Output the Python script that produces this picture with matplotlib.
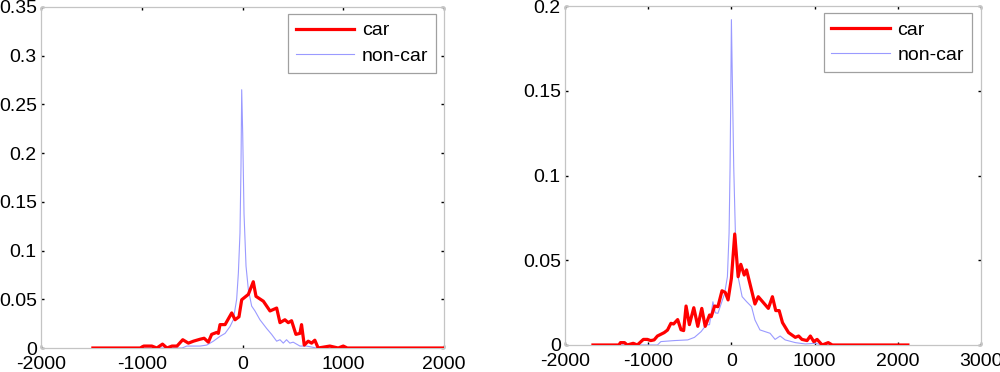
import matplotlib
matplotlib.use("Agg")
import matplotlib.pyplot as plt

plt.rcParams["font.family"] = ["Liberation Sans", "DejaVu Sans"]

# --- left panel data ---
left_car_x = [-1485, -1016, -980, -900, -850, -794, -750, -700, -650, -593, -537, -487,
              -421, -381, -339, -306, -256, -240, -223, -173, -107, -74, -35, -8, 58,
              107, 134, 207, 273, 339, 372, 421, 454, 487, 530, 570, 586, 613, 652,
              686, 718, 751, 867, 950, 1000, 1040, 2000]
left_car_y = [0, 0, 0.002, 0.002, 0, 0.004, 0, 0.002, 0.002, 0.0085, 0.005, 0.007,
              0.009, 0.010, 0.006, 0.014, 0.016, 0.015, 0.024, 0.024, 0.036, 0.029,
              0.032, 0.0495, 0.055, 0.068, 0.053, 0.048, 0.038, 0.041, 0.026, 0.029,
              0.026, 0.028, 0.014, 0.015, 0.024, 0.003, 0.007, 0.005, 0.008, 0, 0.002,
              0, 0.002, 0, 0]

left_noncar_x = [-1485, -600, -553, -421, -355, -289, -223, -173, -124, -91, -58, -41,
                 -25, -15, -8, 2, 15, 35, 58, 91, 124, 173, 240, 289, 339, 372, 405,
                 437, 470, 503, 570, 636, 734, 2000]
left_noncar_y = [0, 0, 0.002, 0.002, 0.003, 0.007, 0.012, 0.015, 0.022, 0.029, 0.050,
                 0.077, 0.118, 0.186, 0.265, 0.220, 0.138, 0.084, 0.060, 0.043, 0.038,
                 0.029, 0.020, 0.014, 0.007, 0.0085, 0.005, 0.0085, 0.005, 0.006,
                 0.002, 0.002, 0, 0]

# --- right panel data ---
right_car_x = [-1664, -1353, -1333, -1285, -1252, -1180, -1131, -1058, -1010, -970,
               -929, -889, -808, -768, -727, -695, -646, -606, -574, -545, -505, -452,
               -404, -356, -315, -263, -242, -202, -162, -113, -73, -40, 0, 40, 81,
               113, 154, 182, 283, 323, 444, 493, 533, 574, 614, 687, 768, 808, 848,
               909, 949, 990, 1030, 1091, 1164, 1212, 2121]
right_car_y = [0, 0, 0.0014, 0.0014, 0, 0.001, 0, 0.0033, 0.0033, 0.0026, 0.003,
               0.0053, 0.0073, 0.0088, 0.0128, 0.0124, 0.015, 0.009, 0.0085, 0.023,
               0.012, 0.022, 0.011, 0.0216, 0.011, 0.0177, 0.0167, 0.023, 0.0226,
               0.032, 0.031, 0.0266, 0.0393, 0.0655, 0.0403, 0.0476, 0.0413, 0.0443,
               0.0242, 0.0285, 0.0216, 0.0285, 0.0203, 0.0203, 0.0132, 0.0073,
               0.0045, 0.0053, 0.0033, 0.0026, 0.0053, 0.002, 0.0033, 0, 0.0014, 0, 0]

right_noncar_x = [-1664, -889, -848, -687, -525, -444, -364, -303, -263, -222, -194,
                  -162, -121, -81, -48, -28, -16, -8, 0, 12, 28, 48, 81, 129, 182, 242,
                  283, 343, 404, 465, 525, 586, 646, 768, 889, 1010, 1091, 2121]
right_noncar_y = [0, 0, 0.002, 0.0026, 0.003, 0.0045, 0.0079, 0.0118, 0.012, 0.0255,
                  0.019, 0.0187, 0.0246, 0.0305, 0.0403, 0.066, 0.105, 0.145, 0.192,
                  0.154, 0.105, 0.066, 0.040, 0.0285, 0.0256, 0.0226, 0.0148, 0.0089,
                  0.0079, 0.0069, 0.0033, 0.0053, 0.003, 0.0014, 0.0006, 0.001, 0, 0]

left_xticks = [-2000, -1000, 0, 1000, 2000]
left_yticks = [0, 0.05, 0.1, 0.15, 0.2, 0.25, 0.3, 0.35]
left_yticklabels = ["0", "0.05", "0.1", "0.15", "0.2", "0.25", "0.3", "0.35"]
right_xticks = [-2000, -1000, 0, 1000, 2000, 3000]
right_yticks = [0, 0.05, 0.1, 0.15, 0.2]
right_yticklabels = ["0", "0.05", "0.1", "0.15", "0.2"]


def draw_panel(ax, car_x, car_y, noncar_x, noncar_y, xticks, yticks, yticklabels, legend_anchor):
    """
    One MATLAB-style panel: thick red 'car' curve over thin blue 'non-car' curve.
    """
    ax.plot(noncar_x, noncar_y, color="#9a9aff", linewidth=0.8, label="non-car", zorder=2)
    ax.plot(car_x, car_y, color="red", linewidth=2.3, label="car", zorder=3)

    ax.set_xlim(xticks[0], xticks[-1])
    ax.set_ylim(yticks[0], yticks[-1])
    ax.set_xticks(xticks)
    ax.set_xticklabels([str(t) for t in xticks])
    ax.set_yticks(yticks)
    ax.set_yticklabels(yticklabels)

    for s in ax.spines.values():
        s.set_color("#c4c4c4")
        s.set_linewidth(0.9)
    ax.tick_params(direction="in", length=2.5, width=1.0, color="black",
                   top=True, right=True, labelsize=14)
    ax.tick_params(axis="x", pad=6)
    ax.tick_params(axis="y", pad=3)

    handles, labels = ax.get_legend_handles_labels()
    leg = ax.legend(handles[::-1], labels[::-1], loc="upper right",
                    bbox_to_anchor=legend_anchor, borderaxespad=0,
                    fontsize=14, fancybox=False, framealpha=1,
                    handlelength=3.0, handletextpad=0.4, labelspacing=0.4,
                    borderpad=0.4)
    leg.get_frame().set_edgecolor("#a0a0a0")
    leg.get_frame().set_linewidth(0.9)


fig = plt.figure(figsize=(10, 3.72), dpi=100)

ax1 = fig.add_axes([0.041, 0.0645, 0.403, 0.917])
draw_panel(ax1, left_car_x, left_car_y, left_noncar_x, left_noncar_y,
           left_xticks, left_yticks, left_yticklabels, (0.98, 0.979))

ax2 = fig.add_axes([0.565, 0.0726, 0.416, 0.911])
draw_panel(ax2, right_car_x, right_car_y, right_noncar_x, right_noncar_y,
           right_xticks, right_yticks, right_yticklabels, (0.978, 0.979))

fig.savefig("out.png", dpi=100)
plt.close(fig)
